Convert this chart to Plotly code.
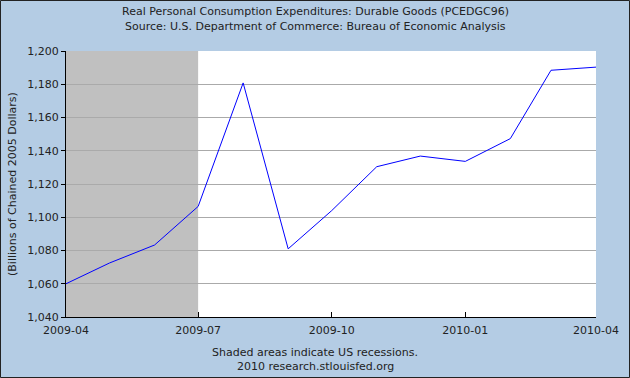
import plotly.graph_objects as go

dates = ["2009-04-01", "2009-05-01", "2009-06-01", "2009-07-01", "2009-08-01",
         "2009-09-01", "2009-10-01", "2009-11-01", "2009-12-01", "2010-01-01",
         "2010-02-01", "2010-03-01", "2010-04-01"]
values = [1060.0, 1072.5, 1083.3, 1106.5, 1180.8, 1081.0, 1104.0, 1130.4,
          1136.8, 1133.6, 1147.3, 1188.4, 1190.3]
recession = ["2009-04-01", "2009-07-01"]
x_ticks = ["2009-04-01", "2009-07-01", "2009-10-01", "2010-01-01", "2010-04-01"]
x_tick_labels = ["2009-04", "2009-07", "2009-10", "2010-01", "2010-04"]
y_ticks = [1040, 1060, 1080, 1100, 1120, 1140, 1160, 1180, 1200]

W, H = 630, 378
L, R, T, B = 66, 34, 51, 61
pw, ph = W - L - R, H - T - B

font = "DejaVu Sans, Verdana, sans-serif"
bg = "#b4cce4"

fig = go.Figure()
fig.add_trace(go.Scatter(x=dates, y=values, mode="lines",
                         line=dict(color="#0000ff", width=1), hoverinfo="skip"))

fig.add_shape(type="rect", xref="x", yref="paper", x0=recession[0], x1=recession[1],
              y0=0, y1=1, fillcolor="#c0c0c0", line=dict(width=0), layer="between")

# outer frame
fig.add_shape(type="rect", xref="paper", yref="paper",
              x0=(-L + 0.5) / pw, x1=(W - L - 0.5) / pw,
              y0=(-B + 0.5) / ph, y1=(H - B - 0.5) / ph,
              line=dict(color="#222222", width=1), fillcolor="rgba(0,0,0,0)", layer="above")

cx = (W / 2 - L) / pw
fig.add_annotation(text="Real Personal Consumption Expenditures: Durable Goods (PCEDGC96)",
                   xref="paper", yref="paper", x=cx, y=(H - B - 12) / ph,
                   showarrow=False, xanchor="center", yanchor="middle",
                   font=dict(family=font, size=11, color="#222222"))
fig.add_annotation(text="Source: U.S. Department of Commerce: Bureau of Economic Analysis",
                   xref="paper", yref="paper", x=cx, y=(H - B - 26) / ph,
                   showarrow=False, xanchor="center", yanchor="middle",
                   font=dict(family=font, size=11, color="#222222"))
fig.add_annotation(text="Shaded areas indicate US recessions.",
                   xref="paper", yref="paper", x=cx, y=(H - B - 352) / ph,
                   showarrow=False, xanchor="center", yanchor="middle",
                   font=dict(family=font, size=11, color="#222222"))
fig.add_annotation(text="2010 research.stlouisfed.org",
                   xref="paper", yref="paper", x=cx, y=(H - B - 366) / ph,
                   showarrow=False, xanchor="center", yanchor="middle",
                   font=dict(family=font, size=11, color="#222222"))
fig.add_annotation(text="(Billions of Chained 2005 Dollars)",
                   xref="paper", yref="paper", x=(12 - L) / pw, y=0.5,
                   showarrow=False, xanchor="center", yanchor="middle", textangle=-90,
                   font=dict(family=font, size=11, color="#222222"))

fig.update_layout(
    width=W, height=H,
    margin=dict(l=L, r=R, t=T, b=B),
    paper_bgcolor=bg, plot_bgcolor="#ffffff",
    showlegend=False,
    font=dict(family=font, size=11, color="#222222"),
    xaxis=dict(type="date", range=[dates[0], dates[-1]], tickvals=x_ticks,
               ticktext=x_tick_labels, ticks="inside", ticklen=5, tickcolor="#000000",
               ticklabelstandoff=3,
               showgrid=False, zeroline=False, showline=True, linecolor="#000000",
               linewidth=1, tickfont=dict(family=font, size=11, color="#222222")),
    yaxis=dict(range=[1040, 1200], tickvals=y_ticks,
               ticktext=[f"{v:,}" for v in y_ticks], ticks="outside", ticklen=4,
               tickcolor="#000000",
               showgrid=True, gridcolor="#aaaaaa", gridwidth=1,
               zeroline=False, showline=True, linecolor="#000000", linewidth=1,
               tickfont=dict(family=font, size=11, color="#222222")),
)

fig.write_html("out.html", config={"displayModeBar": False},
               post_script="document.body.style.margin='0';document.body.style.overflow='hidden';")
